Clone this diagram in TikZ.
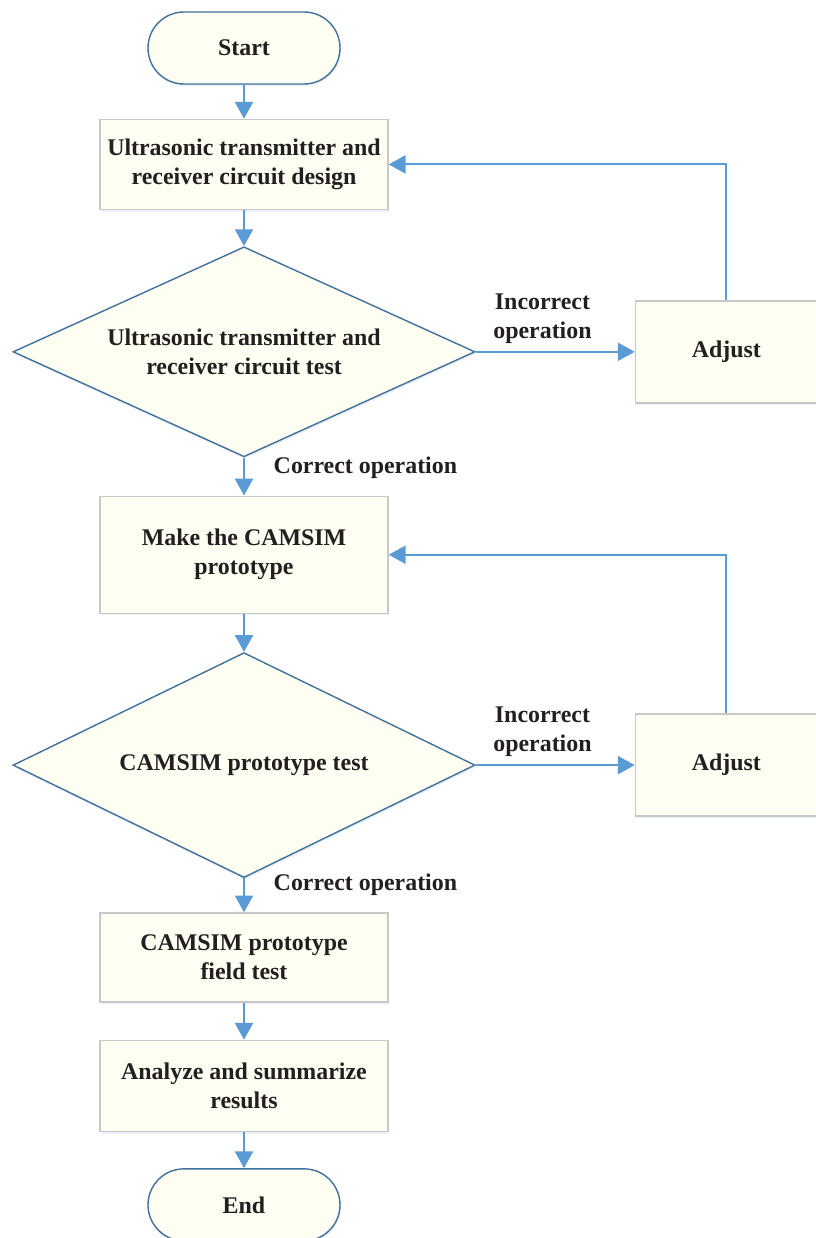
\documentclass[tikz,border=0pt]{standalone}
\usepackage{fontspec}
\setmainfont{Liberation Serif}
\usepackage{tikz}
\usetikzlibrary{arrows.meta, shapes.geometric, shadows, positioning}
\definecolor{cream}{HTML}{FEFEF2}
\definecolor{boxgray}{HTML}{C8C8C8}
\definecolor{darkblue}{HTML}{41719C}
\definecolor{lineblue}{HTML}{5B9BD5}
\definecolor{shadowblue}{HTML}{D6E3F2}
\definecolor{ink}{HTML}{231F20}

\begin{document}
\begin{tikzpicture}[-{Triangle[length=0.42cm,width=0.45cm]}, lineblue, line width=1.5pt,
 font=\fontsize{17}{20.6}\selectfont\bfseries, text=ink]
 \tikzstyle{term} = [rectangle, rounded corners=0.9cm, draw=darkblue, line width=1pt, fill=cream, minimum width=4.8cm, minimum height=1.8cm, drop shadow={shadow xshift=0.6pt, shadow yshift=-1.6pt, fill=shadowblue}]
 \tikzstyle{block} = [rectangle, draw=boxgray, line width=1pt, fill=cream, align=center, minimum width=7.2cm, drop shadow={shadow xshift=0.6pt, shadow yshift=-1.6pt, fill=shadowblue}]
 \tikzstyle{test} = [diamond, aspect=2.2, draw=darkblue, line width=1pt, fill=cream, align=center, inner sep=0pt, minimum width=11.55cm, drop shadow={shadow xshift=0.6pt, shadow yshift=-1.6pt, fill=shadowblue}]
 \tikzstyle{fix} = [block, minimum width=4.55cm, minimum height=2.55cm]
 \useasboundingbox (0,0) rectangle (20.375,-30.95);
   \node[term] (start) at (6.1,-1.2) {Start};
   \node[block, minimum height=2.25cm] (design) [below=0.85cm of start] {Ultrasonic transmitter and\\receiver circuit design};
   \node[test, minimum height=5.25cm] (circtest) [below=0.9cm of design] {Ultrasonic transmitter and\\receiver circuit test};
   \node[fix] (adjA) [right=3.975cm of circtest] {Adjust};
   \node[block, minimum height=2.925cm] (make) [below=0.95cm of circtest] {Make the CAMSIM\\prototype};
   \node[test, minimum height=5.625cm] (prottest) [below=0.95cm of make] {CAMSIM prototype test};
   \node[fix] (adjB) [right=3.975cm of prottest] {Adjust};
   \node[block, minimum height=2.225cm] (field) [below=0.85cm of prottest] {CAMSIM prototype\\field test};
   \node[block, minimum height=2.275cm] (summary) [below=0.925cm of field] {Analyze and summarize\\results};
   \node[term] (end) [below=0.9cm of summary] {End};

 \path[]
	(start) edge (design)
	(design) edge (circtest)
	(circtest) edge node[above=2pt, pos=0.42, align=center] {Incorrect\\operation} (adjA)
	     edge node[right=0.6cm, pos=0.28] {Correct operation} (make)
	(make) edge (prottest)
	(prottest) edge node[above=2pt, pos=0.42, align=center] {Incorrect\\operation} (adjB)
	     edge node[right=0.6cm, pos=0.2] {Correct operation} (field)
	(field) edge (summary)
	(summary) edge (end);
 \draw (adjA.north) |- (design.east);
 \draw (adjB.north) |- (make.east);
\end{tikzpicture}
\end{document}
